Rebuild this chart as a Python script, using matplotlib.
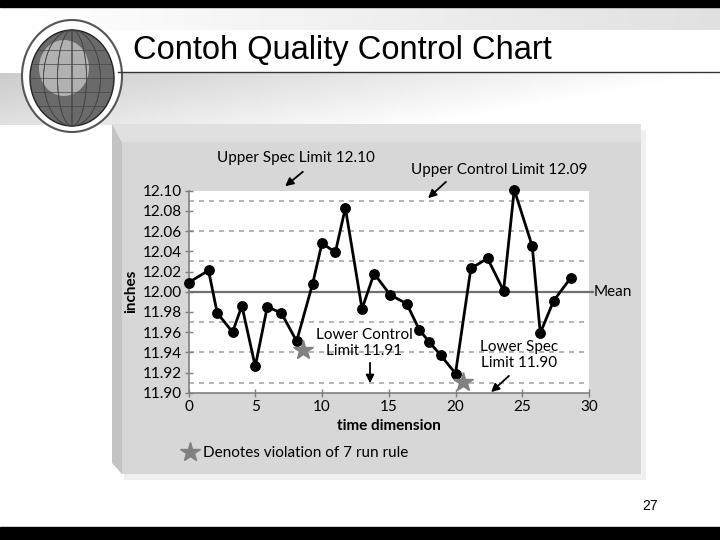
import numpy as np
import matplotlib
matplotlib.use("Agg")
from matplotlib import pyplot as plt
from matplotlib.patches import Ellipse, Polygon, Rectangle

# data
time = [0, 1.5, 2.15, 3.3, 4.0, 5.0, 5.9, 6.95, 8.1, 9.3, 10.0, 11.0, 11.75,
        13.0, 13.9, 15.1, 16.35, 17.3, 18.05, 18.9, 20.0, 21.15, 22.4, 23.6,
        24.4, 25.75, 26.35, 27.35, 28.65]
inches = [12.009, 12.021, 11.979, 11.960, 11.986, 11.926, 11.985, 11.979,
          11.951, 12.008, 12.048, 12.039, 12.083, 11.983, 12.018, 11.997,
          11.988, 11.962, 11.950, 11.937, 11.919, 12.023, 12.033, 12.001,
          12.101, 12.045, 11.959, 11.991, 12.014]
star_x = [8.55, 20.55]
star_y = [11.942, 11.911]
mean = 12.00
ucl, lcl = 12.09, 11.91
usl, lsl = 12.10, 11.90
sigma_lines = [12.09, 12.06, 12.03, 11.97, 11.94, 11.91]
yticks = [11.90, 11.92, 11.94, 11.96, 11.98, 12.00, 12.02, 12.04, 12.06, 12.08, 12.10]
xticks = [0, 5, 10, 15, 20, 25, 30]

fig = plt.figure(figsize=(7.2, 5.4), dpi=100)
fig.patch.set_facecolor('white')

# slide background, pixel coordinates
bg = fig.add_axes([0, 0, 1, 1], zorder=0)
bg.set_xlim(0, 720)
bg.set_ylim(540, 0)
bg.axis('off')

grad = np.linspace(0.80, 1.0, 200)[None, :] * np.ones((20, 1))
grad = grad + np.linspace(0, 0.08, 20)[:, None]
bg.imshow(np.clip(grad, 0, 1), cmap='gray', vmin=0, vmax=1,
          extent=[0, 720, 125, 73], aspect='auto')
bg.imshow(np.linspace(1.0, 0.88, 200)[None, :] * np.ones((10, 1)), cmap='gray',
          vmin=0, vmax=1, extent=[0, 720, 30, 6], aspect='auto')
bg.add_patch(Rectangle((0, 0), 720, 7, color='black'))
bg.add_patch(Rectangle((0, 527), 720, 13, color='black'))
bg.plot([118, 720], [72, 72], color='#333333', lw=1)

# globe
bg.add_patch(Ellipse((72, 76), 100, 112, fc='white', ec='#555555', lw=1.5))
bg.add_patch(Ellipse((72, 78), 84, 96, fc='#6a6a6a', ec='#222222', lw=1))
bg.add_patch(Ellipse((64, 68), 50, 56, fc='#d0d0d0', ec='none', alpha=0.7))
for dx in [-28, -14, 0, 14, 28]:
    bg.add_patch(Ellipse((72, 78), 2 * abs(dx) + 1, 96, fc='none', ec='#444444', lw=0.5))
for yy in [50, 64, 78, 92, 106]:
    half = 42 * np.sqrt(max(0, 1 - ((yy - 78) / 48) ** 2))
    bg.plot([72 - half, 72 + half], [yy, yy], color='#444444', lw=0.5)

bg.text(133, 51, 'Contoh Quality Control Chart', fontsize=23.5,
        family='Liberation Sans', ha='left', va='center', color='black')
bg.text(650, 506, '27', fontsize=10, family='Liberation Sans', ha='center', va='center')

# chart panel
bg.add_patch(Rectangle((124, 130), 522, 350, fc='#f0f0f0', ec='none'))
bg.add_patch(Polygon([(112, 124), (641, 124), (641, 142), (122, 142)], fc='#e0e0e0', ec='none'))
bg.add_patch(Polygon([(112, 124), (122, 142), (122, 474), (112, 463)], fc='#c4c4c4', ec='none'))
bg.add_patch(Rectangle((122, 142), 519, 332, fc='#d7d7d7', ec='none'))

# chart axes
ax = fig.add_axes([188.5 / 720, 1 - 392.7 / 540, 400.5 / 720, 202 / 540], zorder=2)
ax.set_facecolor('white')
ax.set_xlim(0, 30)
ax.set_ylim(11.90, 12.10)

for v in sigma_lines:
    ax.axhline(v, color='#a8a8a8', lw=1.2, ls=(0, (3, 3)), zorder=1)
ax.plot([0, 30.3], [mean, mean], color='#707070', lw=1.6, clip_on=False, zorder=2)

ax.plot(time, inches, color='black', lw=2, marker='o', ms=6.8, clip_on=False, zorder=4)
stars, = ax.plot(star_x, star_y, ls='none', marker='*', ms=15, color='#808080',
                 clip_on=False, zorder=5, label='Denotes violation of 7 run rule')

for s in ['top', 'right']:
    ax.spines[s].set_visible(False)
for s in ['left', 'bottom']:
    ax.spines[s].set_color('#808080')
    ax.spines[s].set_linewidth(1.2)

lato = 'Lato'
ax.set_xticks(xticks)
ax.set_yticks(yticks)
ax.set_yticklabels(['%.2f' % v for v in yticks])
ax.tick_params(direction='inout', length=6, color='#808080', width=1,
               labelsize=11, pad=2)
for lab in ax.get_xticklabels() + ax.get_yticklabels():
    lab.set_family(lato)
ax.set_xlabel('time dimension', fontsize=11, fontweight='bold', family=lato, labelpad=4)
ax.set_ylabel('inches', fontsize=11, fontweight='bold', family=lato, labelpad=3)

arrow = dict(arrowstyle='-|>', color='black', lw=1.3, mutation_scale=12)
txt = dict(fontsize=11, family=lato, annotation_clip=False,
           xycoords=bg.transData, textcoords=bg.transData)
ax.annotate('', xy=(283, 188), xytext=(305, 170), arrowprops=arrow, **txt)
ax.annotate('Upper Spec Limit 12.10', xy=(296, 158), ha='center', va='center', **txt)
ax.annotate('', xy=(426, 200), xytext=(448, 180), arrowprops=arrow, **txt)
ax.annotate('Upper Control Limit 12.09', xy=(499, 170), ha='center', va='center', **txt)
ax.annotate('Lower Control\nLimit 11.91', xy=(364, 343), ha='center', va='center',
            linespacing=1.1, **txt)
ax.annotate('', xy=(370, 386), xytext=(370, 360), arrowprops=arrow, **txt)
ax.annotate('Lower Spec\nLimit 11.90', xy=(519, 355), ha='center', va='center',
            linespacing=1.1, **txt)
ax.annotate('', xy=(489, 394), xytext=(511, 374), arrowprops=arrow, **txt)
ax.annotate('Mean', xy=(594, 292), ha='left', va='center', **txt)

fig.legend(handles=[stars], loc='center left', bbox_to_anchor=(182 / 720, 1 - 453 / 540),
           frameon=False, prop={'family': lato, 'size': 11}, handlelength=1,
           handletextpad=0.4, borderpad=0, borderaxespad=0)

fig.savefig('out.png', dpi=100)
